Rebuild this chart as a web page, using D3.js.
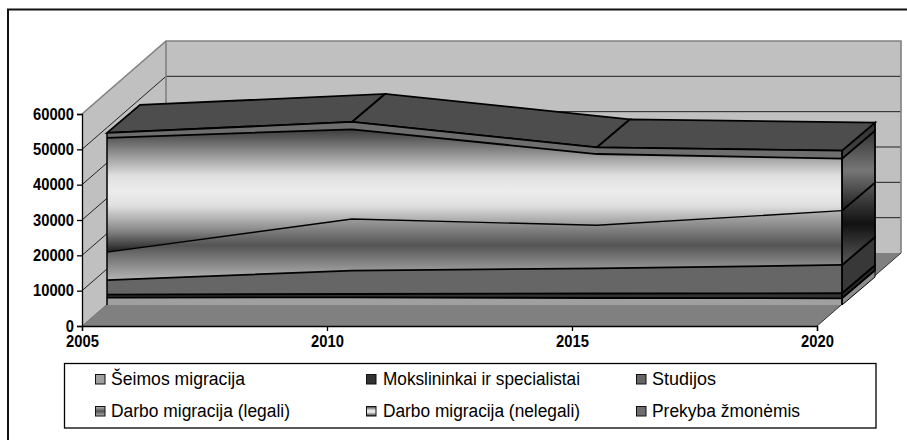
<!DOCTYPE html>
<html><head><meta charset="utf-8">
<script src="https://cdn.jsdelivr.net/npm/d3@7"></script>
<style>html,body{margin:0;padding:0;background:#fff}svg{display:block}</style>
</head><body>
<script>
const years = [2005, 2010, 2015, 2020];
const yTicks = [0, 10000, 20000, 30000, 40000, 50000, 60000];
const seriesNames = ["Šeimos migracija", "Mokslininkai ir specialistai", "Studijos", "Darbo migracija (legali)", "Darbo migracija (nelegali)", "Prekyba žmonėmis"];
const seimos = [2100, 2180, 1980, 1900];
const mokslininkai = [850, 930, 1270, 1420];
const studijos = [4100, 6600, 7130, 8010];
const legali = [7900, 14630, 12170, 15370];
const nelegali = [32350, 25390, 20180, 14720];
const prekyba = [1400, 2070, 1900, 2260];
const seriesValues = [seimos, mokslininkai, studijos, legali, nelegali, prekyba];
const keys = d3.range(seriesNames.length);

const W = 907, H = 440;
const svg = d3.select("body").append("svg").attr("width", W).attr("height", H);
const defs = svg.append("defs");

const x = d3.scaleLinear().domain([2005, 2020]).range([82, 817]);
const y = d3.scaleLinear().domain([0, 60000]).range([326, 114]);
// oblique depth offsets of the 3D box
const wall = [84, -73], front = [25, -21], back = [58, -49];
const P = (xv, yv, o = [0, 0]) => [x(xv) + o[0], y(yv) + o[1]];
const line = d3.line();
const poly = (pts, fill, stroke, sw) => svg.append("path").attr("d", line(pts) + "Z")
  .attr("fill", fill).attr("stroke", stroke || "none").attr("stroke-width", sw || 0).attr("stroke-linejoin", "miter");
const seg = (pts, stroke, sw) => svg.append("path").attr("d", line(pts)).attr("fill", "none").attr("stroke", stroke).attr("stroke-width", sw);

// outer frame: only top and left edges fall inside the picture
seg([[8, 440], [8, 9.5], [907, 9.5]], "#111", 2);

const [x0, x1] = x.domain(), yMax = y.domain()[1];
// walls and floor
poly([P(x0, 0), P(x0, yMax), P(x0, yMax, wall), P(x0, 0, wall)], "#c0c0c0");
poly([P(x0, 0, wall), P(x0, yMax, wall), P(x1, yMax, wall), P(x1, 0, wall)], "#c0c0c0");
poly([P(x0, 0), P(x1, 0), P(x1, 0, wall), P(x0, 0, wall)], "#808080");
// grid
yTicks.slice(1, -1).forEach(t => seg([P(x0, t), P(x0, t, wall), P(x1, t, wall)], "#222", 1));
seg([P(x0, yMax), P(x0, yMax, wall), P(x1, yMax, wall), P(x1, 0, wall)], "#808080", 1.6);
seg([P(x0, 0, wall), P(x0, yMax, wall)], "#808080", 1.6);
seg([P(x1, 0), P(x1, 0, wall)], "#333", 1);
seg([P(x0, 0), P(x0, 0, wall)], "#777", 1);

// stack
const rows = years.map((yr, i) => { const r = { yr }; keys.forEach(k => r[k] = seriesValues[k][i]); return r; });
const stacked = d3.stack().keys(keys)(rows);

// gradients
function grad(id, stops) {
  const g = defs.append("linearGradient").attr("id", id).attr("x1", 0).attr("x2", 0).attr("y1", 0).attr("y2", 1);
  stops.forEach(s => g.append("stop").attr("offset", s[0]).attr("stop-color", s[1]));
  return `url(#${id})`;
}
const legaliFill = grad("gLeg", [[0, "#b4b4b4"], [.5, "#545454"], [1, "#b4b4b4"]]);
const nelegaliFill = grad("gNel", [[0, "#3c3c3c"], [.18, "#8a8a8a"], [.38, "#e0e0e0"], [.5, "#ececec"], [.62, "#e0e0e0"], [.82, "#8a8a8a"], [1, "#1e1e1e"]]);
const sideNel = grad("gSideNel", [[0, "#333"], [.5, "#777"], [1, "#1c1c1c"]]);
const sideLeg = grad("gSideLeg", [[0, "#5a5a5a"], [.5, "#111"], [1, "#5a5a5a"]]);
const sideTop = grad("gSideTop", [[0, "#333"], [1, "#444"]]);
const frontFills = ["#a0a0a0", "#333333", "#666666", legaliFill, nelegaliFill, "#6e6e6e"];
const sideFills = ["#8c8c8c", "#2a2a2a", "#383838", sideLeg, sideNel, sideTop];
const topFill = "#4d4d4d";

// right-end faces
stacked.forEach((s, k) => {
  const L = s[s.length - 1];
  poly([P(x1, L[0], front), P(x1, L[1], front), P(x1, L[1], back), P(x1, L[0], back)], sideFills[k], "#000", k === 0 ? 1 : 1.8);
});
// top surface of the stack
const topS = stacked[stacked.length - 1];
d3.pairs(topS).forEach(([a, b], i) => {
  poly([P(years[i], a[1], front), P(years[i + 1], b[1], front), P(years[i + 1], b[1], back), P(years[i], a[1], back)], topFill, "#000", 1.8);
});
// front faces
const area = d3.area().x(d => x(d.data.yr) + front[0]).y0(d => y(d[0]) + front[1]).y1(d => y(d[1]) + front[1]);
stacked.forEach((s, k) => {
  svg.append("path").datum(s).attr("d", area).attr("fill", frontFills[k]);
});
stacked.forEach((s, k) => {
  svg.append("path").datum(s).attr("fill", "none").attr("stroke", "#000").attr("stroke-width", k === 3 ? 1.4 : 1.8)
    .attr("d", d3.line().x(d => x(d.data.yr) + front[0]).y(d => y(d[1]) + front[1]));
});
// vertical front edges
const stackTop = topS.map(d => d[1]);
seg([P(x0, 0, front), P(x0, stackTop[0], front)], "#000", 1.5);
seg([P(x1, 0, front), P(x1, stackTop[3], front)], "#000", 1.8);

// axes
const font = "'Liberation Sans', Arial, sans-serif";
const gy = svg.append("g").attr("transform", `translate(${x(x0)},0)`)
  .call(d3.axisLeft(y).tickValues(yTicks).tickFormat(d3.format("d")).tickSize(5).tickPadding(3));
const gx = svg.append("g").attr("transform", `translate(0,${y(0)})`)
  .call(d3.axisBottom(x).tickValues(years).tickFormat(d3.format("d")).tickSize(5).tickPadding(5));
[gy, gx].forEach(g => {
  g.selectAll("path,line").attr("stroke", "#000").attr("stroke-width", 1.3);
  g.selectAll("text").attr("fill", "#000").attr("font-family", font).attr("font-size", 16).attr("font-weight", "bold")
    .attr("textLength", function () { return this.textContent.length * 8.2; }).attr("lengthAdjust", "spacingAndGlyphs");
});

// legend
svg.append("rect").attr("x", 64.5).attr("y", 363.5).attr("width", 811.5).attr("height", 64.5)
  .attr("fill", "#fff").attr("stroke", "#000").attr("stroke-width", 1.3);
const swatchX = [95, 366, 636], textX = [111, 383, 652], rowY = [379, 411];
const textW = [134, 197, 64, 179, 197, 148];
keys.forEach((k, i) => {
  const c = i % 3, r = Math.floor(i / 3), g = svg.append("g");
  g.append("rect").attr("x", swatchX[c] + .5).attr("y", rowY[r] - 4.5).attr("width", 9.5).attr("height", 9.5)
    .attr("fill", frontFills[k]).attr("stroke", "#111").attr("stroke-width", 1);
  g.append("text").attr("x", textX[c]).attr("y", rowY[r] + 6).text(seriesNames[k])
    .attr("font-family", font).attr("font-size", 18).attr("fill", "#000")
    .attr("textLength", textW[k]).attr("lengthAdjust", "spacingAndGlyphs");
});
</script>
</body></html>
